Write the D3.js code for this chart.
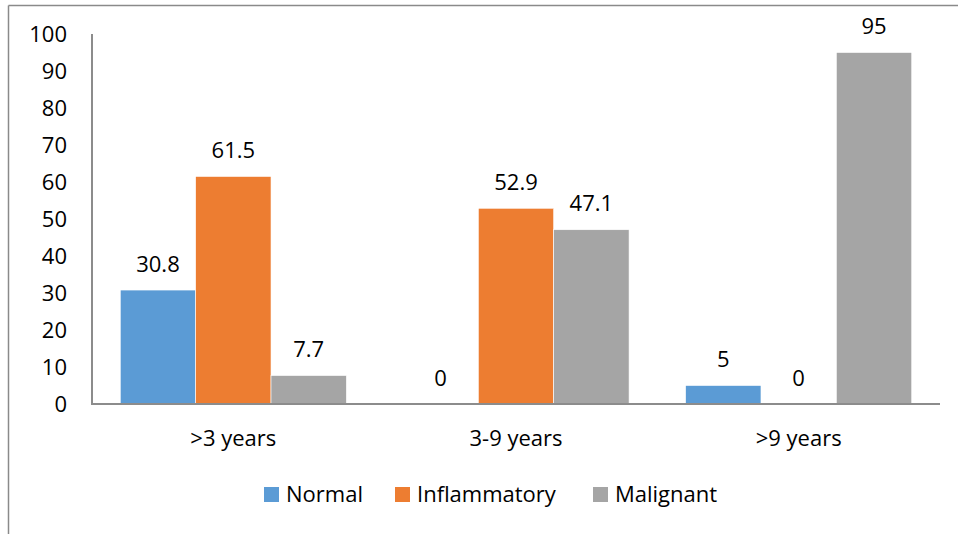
<!DOCTYPE html>
<html>
<head>
<meta charset="utf-8">
<script src="https://d3js.org/d3.v7.min.js"></script>
<style>
  body { margin: 0; background: #fff; }
  text { font-family: "Open Sans", Lato, sans-serif; fill: #000; }
</style>
</head>
<body>
<svg id="chart" width="958" height="534"></svg>
<script>
// data
var categories = ['>3 years', '3-9 years', '>9 years'];
var seriesNames = ['Normal', 'Inflammatory', 'Malignant'];
var normal = [30.8, 0, 5];
var inflammatory = [61.5, 52.9, 0];
var malignant = [7.7, 47.1, 95];
var yTicks = [0, 10, 20, 30, 40, 50, 60, 70, 80, 90, 100];
var colors = ['#5B9BD5', '#ED7D31', '#A5A5A5'];

var series = [normal, inflammatory, malignant];
var fs = '22px';

var svg = d3.select('#chart');

// outer frame (only top and left visible in the reference)
svg.append('line').attr('x1', 8.5).attr('y1', 5.5).attr('x2', 958).attr('y2', 5.5)
  .style('stroke', '#8a8a8a').style('stroke-width', 1.5);
svg.append('line').attr('x1', 8.5).attr('y1', 5.5).attr('x2', 8.5).attr('y2', 534)
  .style('stroke', '#8a8a8a').style('stroke-width', 1.5);

var plotL = 92, plotR = 940, plotT = 34, plotB = 404;

var xc = d3.scaleBand().domain(categories).range([plotL, plotR]);
var catW = xc.bandwidth();
// Excel-like gap width 75%: bar = band/(3+0.75)
var barW = catW / 3.75;
var y = d3.scaleLinear().domain([0, 100]).range([plotB, plotT]);

function barX(i, s) { return xc(categories[i]) + (catW - 3 * barW) / 2 + s * barW; }

// y tick labels
svg.append('g').selectAll('text').data(yTicks).enter().append('text')
  .attr('x', 67).attr('y', function(d) { return y(d) + 7.5; })
  .attr('text-anchor', 'end').style('font-size', fs)
  .text(function(d) { return d; });

// bars
series.forEach(function(vals, s) {
  var g = svg.append('g');
  g.selectAll('rect').data(vals).enter().append('rect')
    .attr('x', function(d, i) { return barX(i, s); })
    .attr('y', function(d) { return y(d); })
    .attr('width', barW)
    .attr('height', function(d) { return plotB - y(d); })
    .attr('fill', colors[s])
    .style('stroke', '#fff').style('stroke-width', 0.6);
  g.selectAll('text').data(vals).enter().append('text')
    .attr('x', function(d, i) { return barX(i, s) + barW / 2; })
    .attr('y', function(d) { return y(d) - 18.5; })
    .attr('text-anchor', 'middle').style('font-size', fs)
    .text(function(d) { return d; });
});

// axes lines
svg.append('line').attr('x1', plotL).attr('y1', plotT).attr('x2', plotL).attr('y2', plotB + 1)
  .style('stroke', '#8c8c8c').style('stroke-width', 2);
svg.append('line').attr('x1', plotL - 1).attr('y1', plotB).attr('x2', plotR).attr('y2', plotB)
  .style('stroke', '#8c8c8c').style('stroke-width', 2);

// category labels
svg.append('g').selectAll('text').data(categories).enter().append('text')
  .attr('x', function(d) { return xc(d) + catW / 2; })
  .attr('y', 446)
  .attr('text-anchor', 'middle').style('font-size', fs)
  .text(function(d) { return d; });

// legend
var legendX = [264, 395, 593];
var legend = svg.append('g');
seriesNames.forEach(function(n, i) {
  legend.append('rect').attr('x', legendX[i]).attr('y', 487).attr('width', 15).attr('height', 15)
    .attr('fill', colors[i]);
  legend.append('text').attr('x', legendX[i] + 22).attr('y', 502)
    .style('font-size', fs).text(n);
});
</script>
</body>
</html>
